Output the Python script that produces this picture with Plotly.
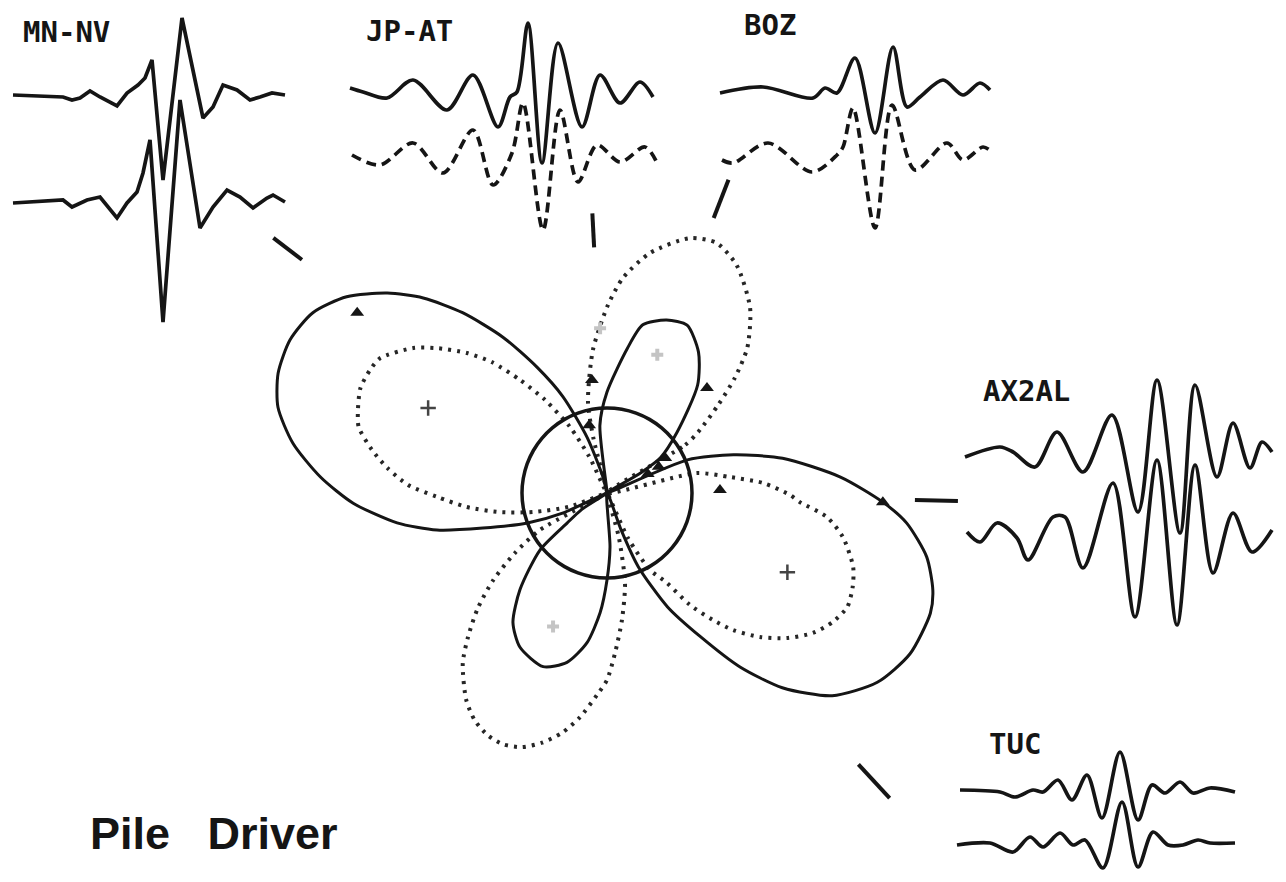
import math
import plotly.graph_objects as go

W, H = 1286, 882

# ---------------- radiation patterns (azimuth in deg, CCW from east) ----------------
SOLID_AZ = [28, 31, 33.4, 41, 50, 57, 64.5, 71, 78, 82, 90, 96, 101, 104, 109.7, 114.6,
            119.1, 123.7, 128.7, 133.3, 137.7, 143, 148.5, 154.2, 160, 165.4, 171, 176.8,
            182.3, 188.1, 192.3, 195.8, 200.6, 204.4, 208, 213, 217, 220.4, 228, 234,
            240.5, 249.8, 256.7, 262.4, 266.7, 270, 273.2, 282, 291, 293, 298, 303, 307.4,
            312, 318, 325, 332, 339.6, 343.4, 348.7, 354.3, 358.1, 363.9, 371.2, 376.8,
            382.4, 388]
SOLID_R = [0, 40, 64, 93, 141, 168, 186, 183, 172, 146, 101, 68, 0, 16, 59, 106,
           144, 187, 231, 268, 297, 326, 345, 352, 350, 340, 318, 287,
           254, 212, 174, 129, 85, 48, 0, 30, 50, 88, 130, 160,
           177, 185, 174, 151, 120, 87, 54, 0, 40, 80, 129, 171, 219,
           262, 303, 330, 343, 345, 340, 326, 301, 276, 234, 179, 132,
           87, 0]

DOT_AZ = [22, 31.6, 33.8, 38.4, 42, 46, 52.3, 60.3, 66.3, 72, 79.8, 85.7, 89.7, 95.6,
          101.8, 104, 110, 116, 119.3, 123.7, 127.6, 131.3, 135, 139.5, 143.2, 149.3,
          152.6, 156.9, 161.2, 165.1, 169.6, 173.5, 177.7, 181.3, 185.7, 190.1, 194.4,
          200, 204, 208.9, 213.1, 217.4, 221.7, 226, 229.7, 235.7, 239.8, 243.8, 247.5,
          251.5, 255.4, 259.4, 263.1, 267.2, 270, 272.9, 276.7, 281.3, 285, 289, 295,
          299.2, 303.7, 306.5, 309.8, 312.6, 316.7, 321.1, 325.8, 330.3, 334.6, 339.1,
          343.3, 349.4, 353.8, 357.3, 359.4, 363.7, 367.4, 372.5, 382]
DOT_R = [0, 92, 110, 142, 172, 202, 234, 262, 273, 268, 244, 216, 188, 144,
         93, 55, 0, 40, 76, 112, 143, 174, 198, 223, 242, 264,
         267, 268, 263, 257, 239, 221, 199, 170, 141, 109, 76,
         40, 0, 77, 110, 143, 173, 200, 223, 250, 263, 270, 272,
         268, 258, 244, 226, 202, 187, 160, 128, 92, 45, 0, 50,
         88, 108, 139, 165, 186, 210, 231, 249, 260, 266, 263,
         257, 240, 221, 193, 183, 156, 124, 92, 0]

CIRCLE_R = 85

# station azimuths and the radial extent of their pointer ticks
STATIONS = ["MN-NV", "JP-AT", "BOZ", "AX2AL", "TUC"]
STATION_AZ = [142.6, 93.0, 68.8, -1.3, -47.2]
TICK_R_IN = [384, 246, 295, 308, 370]
TICK_R_OUT = [420, 280, 336, 351, 416]

# plotted observations
TRI_AZ = [144.2, 97.6, 104.8, 46.4, 1.5, 358.1, 25, 27, 31]
TRI_R = [308, 114, 70, 145, 113, 276, 45, 58, 68]
PLUS_AZ = [154.6, 336.3]
PLUS_R = [198, 197]
FAINT_AZ = [92.4, 70, 248]
FAINT_R = [165, 147, 144]

# ---------------- waveforms (time and amplitude, px-units) ----------------
MNNV_T1 = [0, 50, 59, 67, 77, 87, 104, 114, 125, 132, 139, 150, 169, 190, 200, 210, 224, 237, 247, 259, 272]
MNNV_A1 = [1, -1, -4, -2, 5, -1, -10, 3, 11, 18, 36, -84, 78, -22, -11, 11, 6, -4, -1, 3, 1]
MNNV_T2 = [0, 50, 59, 74, 87, 104, 114, 124, 130, 137, 150, 167, 187, 200, 214, 227, 240, 254, 260, 272]
MNNV_A2 = [0, 3, -4, 3, 6, -15, 0, 11, 30, 63, -119, 103, -25, -4, 13, 6, -5, 5, 8, 1]

JPAT_T1 = [0, 13, 37, 63, 97, 123, 148, 160, 167, 178, 192, 208, 232, 250, 270, 290, 303]
JPAT_A1 = [2, -2, -8, 10, -20, 15, -37, -7, -2, 67, -73, 47, -37, 15, -13, 8, -7]
JPAT_T2 = [0, 28, 61, 91, 121, 141, 160, 171, 191, 208, 226, 245, 268, 293, 306]
JPAT_A2 = [2, -8, 14, -16, 27, -28, 4, 54, -73, 47, -25, 12, -5, 10, -8]

BOZ_T1 = [0, 43, 93, 105, 117, 135, 155, 173, 187, 200, 223, 243, 260, 270]
BOZ_A1 = [-1, 5, -6, 4, -1, 34, -41, 45, -15, -5, 12, -3, 9, 2]
BOZ_T2 = [0, 11, 46, 90, 115, 121, 131, 153, 170, 193, 225, 241, 261, 270]
BOZ_A2 = [-2, -5, 15, -14, 3, 11, 50, -70, 53, -12, 15, -2, 11, 6]

AX2AL_T1 = [0, 35, 48, 70, 92, 118, 147, 173, 192, 215, 230, 252, 268, 285, 297, 307]
AX2AL_A1 = [-2, 8, 3, -12, 23, -17, 40, -57, 75, -78, 70, -22, 32, -13, 13, 3]
AX2AL_T2 = [0, 13, 30, 50, 61, 86, 98, 116, 146, 168, 190, 210, 228, 246, 266, 285, 305]
AX2AL_A2 = [-2, -12, 7, -8, -30, 13, 13, -38, 47, -87, 70, -95, 65, -43, 17, -22, 0]

TUC_T1 = [0, 40, 55, 73, 83, 98, 112, 127, 142, 160, 178, 192, 205, 220, 233, 250, 275]
TUC_A1 = [0, -2, -7, 0, -2, 10, -10, 15, -28, 38, -30, 5, -3, 8, -3, 2, -2]
TUC_T2 = [0, 33, 56, 73, 86, 103, 116, 128, 146, 165, 181, 196, 211, 226, 241, 253, 278]
TUC_A2 = [0, 2, -7, 8, -2, 12, 0, 5, -23, 43, -22, 13, 0, 0, 5, 2, 2]

# ---------------- layout: where each trace sits on the page ----------------
INK = "#151515"
PC_X, PC_Y, PC_R = 607, 493, 380   # pattern centre and radius on the page

# (t, a, left px, baseline px, dashed, smooth)
WAVES = [
    (MNNV_T1, MNNV_A1, 13, 96, False, False),
    (MNNV_T2, MNNV_A2, 13, 203, False, False),
    (JPAT_T1, JPAT_A1, 350, 90, False, True),
    (JPAT_T2, JPAT_A2, 352, 157, True, True),
    (BOZ_T1, BOZ_A1, 720, 92, False, True),
    (BOZ_T2, BOZ_A2, 722, 158, True, True),
    (AX2AL_T1, AX2AL_A1, 965, 455, False, True),
    (AX2AL_T2, AX2AL_A2, 967, 530, False, True),
    (TUC_T1, TUC_A1, 960, 790, False, True),
    (TUC_T2, TUC_A2, 957, 845, False, True),
]
LABEL_POS = {"MN-NV": (66, 32), "JP-AT": (409, 31), "BOZ": (770, 25),
             "AX2AL": (1026, 391), "TUC": (1015, 744)}

fig = go.Figure()

# polar pattern
fig.add_trace(go.Scatterpolar(
    r=DOT_R, theta=DOT_AZ, mode="lines",
    line=dict(color="#262626", width=4, dash="3px,6px", shape="spline", smoothing=0.7)))
fig.add_trace(go.Scatterpolar(
    r=SOLID_R, theta=SOLID_AZ, mode="lines",
    line=dict(color=INK, width=3, shape="spline", smoothing=0.7)))
circ_theta = list(range(0, 361, 10))
fig.add_trace(go.Scatterpolar(
    r=[CIRCLE_R] * len(circ_theta), theta=circ_theta, mode="lines",
    line=dict(color=INK, width=3.5, shape="spline")))
fig.add_trace(go.Scatterpolar(
    r=TRI_R, theta=TRI_AZ, mode="markers", cliponaxis=False,
    marker=dict(symbol="triangle-up", size=12, color=INK)))
fig.add_trace(go.Scatterpolar(
    r=PLUS_R, theta=PLUS_AZ, mode="markers", cliponaxis=False,
    marker=dict(symbol="cross-thin", size=11, line=dict(color="#444", width=2.5))))
fig.add_trace(go.Scatterpolar(
    r=FAINT_R, theta=FAINT_AZ, mode="markers", cliponaxis=False,
    marker=dict(symbol="cross", size=10, color="#c4c4c4")))

# station pointer ticks reach past the polar edge, so they go on a cartesian
# frame centred on the pattern (1 unit = 1 px, same scale as the polar radius)
tx, ty = [], []
for az, r0, r1 in zip(STATION_AZ, TICK_R_IN, TICK_R_OUT):
    c, s = math.cos(math.radians(az)), math.sin(math.radians(az))
    tx += [r0 * c, r1 * c, None]
    ty += [r0 * s, r1 * s, None]
fig.add_trace(go.Scatter(x=tx, y=ty, xaxis="x11", yaxis="y11", mode="lines",
                         line=dict(color=INK, width=4)))
axes = {
    "xaxis11": dict(domain=[0, 1], range=[-PC_X, W - PC_X], visible=False,
                    anchor="y11", fixedrange=True),
    "yaxis11": dict(domain=[0, 1], range=[PC_Y - H, PC_Y], visible=False,
                    anchor="x11", fixedrange=True),
}

# waveforms, each on its own pair of axes scaled 1 unit = 1 px
for i, (t, a, x0, y0, dashed, smooth) in enumerate(WAVES, start=1):
    xa, ya = f"x{i}", f"y{i}"
    fig.add_trace(go.Scatter(
        x=t, y=a, xaxis=xa, yaxis=ya, mode="lines",
        line=dict(color=INK, width=3.7,
                  dash="10px,6px" if dashed else "solid",
                  shape="spline" if smooth else "linear", smoothing=0.9)))
    axes[f"xaxis{i}"] = dict(domain=[0, 1], range=[-x0, W - x0], visible=False,
                             anchor=ya, fixedrange=True)
    axes[f"yaxis{i}"] = dict(domain=[0, 1], range=[y0 - H, y0], visible=False,
                             anchor=xa, fixedrange=True)

annotations = []
for name in STATIONS:
    px, py = LABEL_POS[name]
    annotations.append(dict(
        text=f"<b>{name}</b>", x=px / W, y=1 - py / H, xref="paper", yref="paper",
        xanchor="center", yanchor="middle", showarrow=False,
        font=dict(family="DejaVu Sans Mono", size=29, color=INK)))
annotations.append(dict(
    text="<b>Pile\u00a0\u00a0\u00a0Driver</b>", x=88 / W, y=1 - 833 / H,
    xref="paper", yref="paper", xanchor="left", yanchor="middle", showarrow=False,
    font=dict(family="Liberation Sans", size=45, color=INK)))

fig.update_layout(
    width=W, height=H, margin=dict(l=0, r=0, t=0, b=0),
    paper_bgcolor="white", plot_bgcolor="rgba(0,0,0,0)", showlegend=False,
    polar=dict(
        domain=dict(x=[(PC_X - PC_R) / W, (PC_X + PC_R) / W],
                    y=[(H - PC_Y - PC_R) / H, (H - PC_Y + PC_R) / H]),
        bgcolor="rgba(0,0,0,0)",
        radialaxis=dict(range=[0, PC_R], visible=False, showgrid=False, showline=False,
                        showticklabels=False, ticks=""),
        angularaxis=dict(visible=False, showgrid=False, showline=False,
                         showticklabels=False, ticks="", rotation=0,
                         direction="counterclockwise"),
    ),
    annotations=annotations,
    **axes,
)

fig.write_html("out.html")
